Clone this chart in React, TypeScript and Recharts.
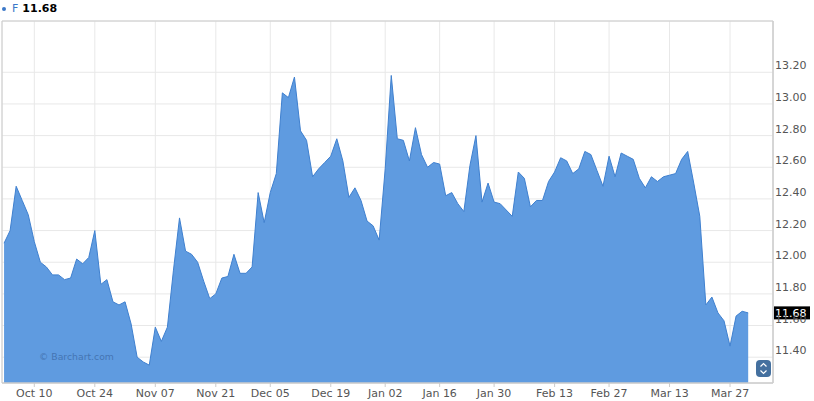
import {
  AreaChart,
  Area,
  XAxis,
  YAxis,
  CartesianGrid,
  ReferenceLine,
  ReferenceArea,
} from "recharts";

// daily closes, Oct 3 -> Mar 30 (one value per trading day)
const prices = [
  12.12, 12.2, 12.48, 12.39, 12.3, 12.13, 12.0, 11.97, 11.92, 11.92,
  11.89, 11.9, 12.02, 11.99, 12.03, 12.2, 11.86, 11.89, 11.75, 11.73,
  11.75, 11.61, 11.4, 11.37, 11.35, 11.59, 11.5, 11.59, 11.95, 12.28,
  12.07, 12.05, 12.0, 11.88, 11.77, 11.8, 11.9, 11.91, 12.05, 11.93,
  11.93, 11.97, 12.44, 12.25, 12.44, 12.56, 13.07, 13.04, 13.17, 12.83,
  12.77, 12.54, 12.59, 12.63, 12.67, 12.78, 12.64, 12.41, 12.47, 12.39,
  12.26, 12.23, 12.14, 12.59, 13.18, 12.78, 12.77, 12.64, 12.85, 12.68,
  12.6, 12.63, 12.62, 12.42, 12.44, 12.37, 12.32, 12.61, 12.8, 12.38,
  12.5, 12.38, 12.37, 12.33, 12.29, 12.57, 12.53, 12.35, 12.39, 12.39,
  12.51, 12.57, 12.66, 12.64, 12.56, 12.59, 12.7, 12.68, 12.58, 12.48,
  12.67, 12.54, 12.69, 12.67, 12.65, 12.53, 12.47, 12.54, 12.51, 12.54,
  12.55, 12.56, 12.65, 12.7, 12.5, 12.29, 11.73, 11.78, 11.68, 11.63,
  11.47, 11.66, 11.69, 11.68,
];

const tickLabels = [
  "Oct 10", "Oct 24", "Nov 07", "Nov 21", "Dec 05", "Dec 19", "Jan 02",
  "Jan 16", "Jan 30", "Feb 13", "Feb 27", "Mar 13", "Mar 27",
];
// trading-day index where each label sits
const tickIndex = [5, 15, 25, 35, 44, 54, 63, 72, 81, 91, 100, 110, 120];

const yTicks = [11.4, 11.6, 11.8, 12.0, 12.2, 12.4, 12.6, 12.8, 13.0, 13.2];

const symbol = "F";
const lastPrice = 11.68;

const X_DOMAIN: [number, number] = [-0.34, 127.1];
const Y_DOMAIN: [number, number] = [11.237, 13.524];

const FONT = "'DejaVu Sans', Verdana, sans-serif";
const FILL = "#5f9be0";
const LINE = "#3f80cf";

const data = prices.map((price, i) => ({ i, price }));

function XTick({ x, y, payload }: any) {
  const k = tickIndex.indexOf(payload.value);
  return (
    <text x={x} y={y} dy={8} textAnchor="middle" fontSize={11} fill="#555" fontFamily={FONT}>
      {k >= 0 ? tickLabels[k] : ""}
    </text>
  );
}

function YTick({ x, y, payload }: any) {
  return (
    <text x={x} y={y - 3} textAnchor="start" fontSize={11} fill="#555" fontFamily={FONT}>
      {Number(payload.value).toFixed(2)}
    </text>
  );
}

function PriceTag({ viewBox }: any) {
  const left = viewBox.x + viewBox.width + 1;
  const top = viewBox.y - 6.5;
  return (
    <g>
      <rect x={left} y={top} width={36} height={13} fill="#000" />
      <text x={left + 1} y={top + 10.5} fontSize={11} fill="#fff" fontFamily={FONT}>
        {lastPrice.toFixed(2)}
      </text>
    </g>
  );
}

export default function App() {
  return (
    <div style={{ position: "absolute", left: 0, top: 0, width: 814, height: 401, background: "#fff" }}>
      {/* header */}
      <div
        style={{
          position: "absolute",
          left: 2,
          top: 2,
          fontFamily: FONT,
          fontSize: 11,
          lineHeight: "14px",
          display: "flex",
          alignItems: "center",
          whiteSpace: "nowrap",
        }}
      >
        <span style={{ width: 4, height: 4, borderRadius: 2, background: "#3b78c8", marginRight: 6 }} />
        <span style={{ color: "#3b78c8", marginRight: 4 }}>{symbol}</span>
        <span style={{ color: "#000", fontWeight: "bold" }}>{lastPrice.toFixed(2)}</span>
      </div>

      <AreaChart
        width={814}
        height={401}
        data={data}
        margin={{ top: 21, right: 0, left: 2, bottom: 0 }}
      >
        <CartesianGrid stroke="#e8e8e8" />
        <XAxis
          type="number"
          dataKey="i"
          domain={X_DOMAIN}
          allowDataOverflow
          ticks={tickIndex}
          interval={0}
          tick={<XTick />}
          tickSize={4}
          tickMargin={2}
          tickLine={{ stroke: "#ccc" }}
          axisLine={{ stroke: "#ccc" }}
          height={18}
        />
        <YAxis
          orientation="right"
          domain={Y_DOMAIN}
          allowDataOverflow
          ticks={yTicks}
          interval={0}
          tick={<YTick />}
          tickSize={0}
          tickMargin={2}
          tickLine={false}
          axisLine={{ stroke: "#ccc" }}
          width={41}
        />
        <Area
          type="linear"
          dataKey="price"
          stroke={LINE}
          strokeWidth={1}
          fill={FILL}
          fillOpacity={1}
          isAnimationActive={false}
          dot={false}
          activeDot={false}
        />
        <ReferenceArea
          x1={X_DOMAIN[0]}
          x2={X_DOMAIN[1]}
          y1={Y_DOMAIN[0]}
          y2={Y_DOMAIN[1]}
          fill="none"
          stroke="#ccc"
          ifOverflow="visible"
        />
        <ReferenceLine y={lastPrice} stroke="none" label={<PriceTag />} />
      </AreaChart>

      {/* watermark and scroll handle */}
      <svg
        width={814}
        height={401}
        style={{ position: "absolute", left: 0, top: 0, pointerEvents: "none" }}
      >
        <text x={39} y={360} fontSize={9.3} fill="#3b67a3" fillOpacity={0.75} fontFamily={FONT}>
          © Barchart.com
        </text>
        <rect x={756} y={360} width={15} height={17} rx={4} fill="#44709f" />
        <path d="M760.5 366.5 L763.5 363.5 L766.5 366.5" stroke="#fff" strokeWidth={1.2} fill="none" />
        <path d="M760.5 370.5 L763.5 373.5 L766.5 370.5" stroke="#fff" strokeWidth={1.2} fill="none" />
      </svg>
    </div>
  );
}
